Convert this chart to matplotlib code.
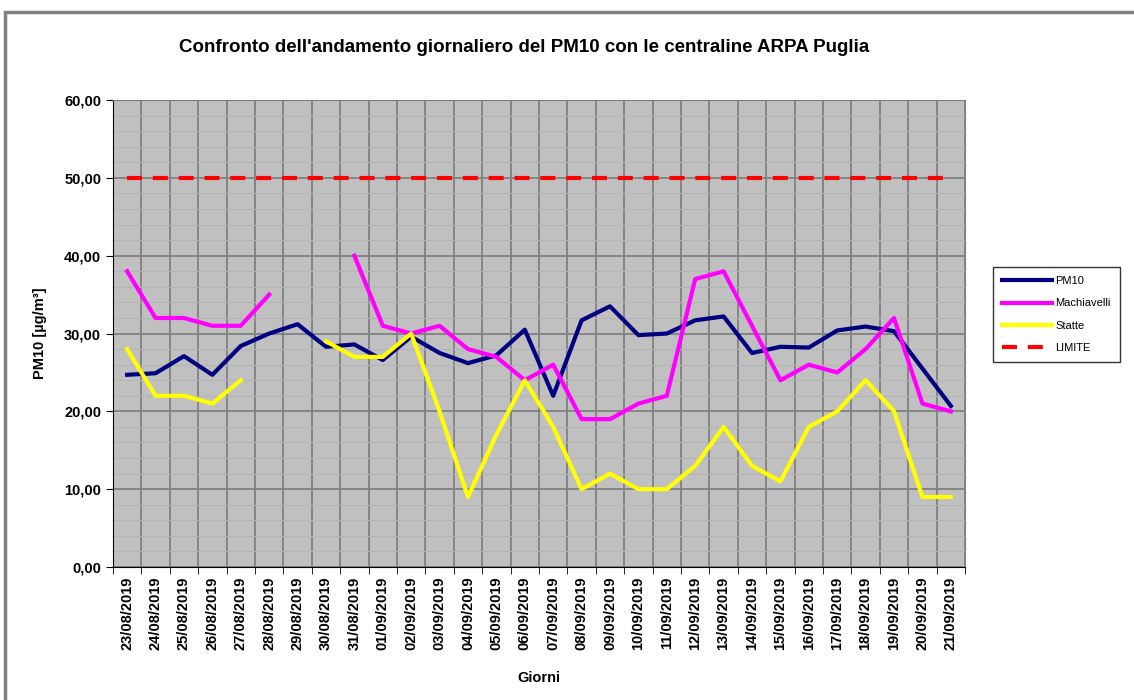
import matplotlib.pyplot as plt
import matplotlib.patches as patches
import numpy as np

plt.rcParams['font.family'] = ['Liberation Sans', 'DejaVu Sans']

# Data
days = ['23/08/2019', '24/08/2019', '25/08/2019', '26/08/2019', '27/08/2019',
        '28/08/2019', '29/08/2019', '30/08/2019', '31/08/2019', '01/09/2019',
        '02/09/2019', '03/09/2019', '04/09/2019', '05/09/2019', '06/09/2019',
        '07/09/2019', '08/09/2019', '09/09/2019', '10/09/2019', '11/09/2019',
        '12/09/2019', '13/09/2019', '14/09/2019', '15/09/2019', '16/09/2019',
        '17/09/2019', '18/09/2019', '19/09/2019', '20/09/2019', '21/09/2019']
pm10 = [24.7, 24.9, 27.1, 24.7, 28.4, 30.0, 31.2, 28.3, 28.6, 26.6,
        29.6, 27.5, 26.2, 27.2, 30.5, 22.0, 31.7, 33.5, 29.8, 30.0,
        31.7, 32.2, 27.5, 28.3, 28.2, 30.4, 30.9, 30.3, 25.5, 20.7]
machiavelli = [38, 32, 32, 31, 31, 35, None, None, 40, 31,
               30, 31, 28, 27, 24, 26, 19, 19, 21, 22,
               37, 38, 31, 24, 26, 25, 28, 32, 21, 20]
statte = [28, 22, 22, 21, 24, None, None, 29, 27, 27,
          30, 20, 9, 17, 24, 18, 10, 12, 10, 10,
          13, 18, 13, 11, 18, 20, 24, 20, 9, 9]
limite = [50] * len(days)

def arr(v):
    return np.array([np.nan if x is None else x for x in v], dtype=float)

fig = plt.figure(figsize=(11.34, 7.0), dpi=100)
fig.patches.append(patches.Rectangle((0.004, -0.01), 1.2, 0.993, transform=fig.transFigure,
                                     fill=False, edgecolor='#808080', linewidth=2.5))

ax = fig.add_axes([0.0996, 0.19, 0.7514, 0.667])
ax.set_facecolor('#C0C0C0')
x = np.arange(len(days))

ax.plot(x, arr(pm10), color='#000080', lw=3, label='PM10')
ax.plot(x, arr(machiavelli), color='#FF00FF', lw=3, label='Machiavelli')
ax.plot(x, arr(statte), color='#FFFF00', lw=3, label='Statte')
ax.plot(x, arr(limite), color='#FF0000', lw=3, ls=(0, (3.6, 2.6)),
        dash_capstyle='butt', label='LIMITE')

ax.set_xlim(-0.5, len(days) - 0.5)
ax.set_ylim(0, 60)
ax.set_yticks(np.arange(0, 61, 10))
ax.set_yticks(np.arange(0, 61, 2), minor=True)
ax.set_yticklabels([f'{v:.2f}'.replace('.', ',') for v in range(0, 61, 10)],
                   fontsize=10.5, fontweight='bold')
ax.set_xticks(x)
ax.set_xticklabels(days, rotation=90, fontsize=10.5, fontweight='bold')
ax.set_xticks(np.arange(-0.5, len(days)), minor=True)
ax.tick_params(axis='x', which='major', length=0, pad=7)
ax.tick_params(axis='x', which='minor', length=5, direction='out', color='black')
ax.tick_params(axis='y', which='major', length=5, direction='out', color='black')
ax.tick_params(axis='y', which='minor', length=0)

ax.grid(True, axis='y', which='major', color='#808080', lw=1.3)
ax.grid(True, axis='y', which='minor', color='#B4B4B4', lw=0.8)
ax.grid(True, axis='x', which='minor', color='#808080', lw=1.3)
ax.set_axisbelow(True)

for s in ['top', 'right']:
    ax.spines[s].set_color('#808080')
for s in ['left', 'bottom']:
    ax.spines[s].set_color('black')

fig.text(0.462, 0.932, "Confronto dell'andamento giornaliero del PM10 con le centraline ARPA Puglia",
         fontsize=13.5, fontweight='bold', ha='center', va='center')
ax.set_xlabel('Giorni', fontsize=10.5, fontweight='bold', labelpad=15)
ax.set_ylabel('PM10 [µg/m³]', fontsize=10.5, fontweight='bold', labelpad=12)

leg = fig.legend(loc='upper left', bbox_to_anchor=(0.871, 0.626), fontsize=8,
                 frameon=True, fancybox=False, shadow=False, handlelength=4.5,
                 labelspacing=1.1, borderpad=0.8, handletextpad=0.3)
leg.get_frame().set_edgecolor('black')
leg.get_frame().set_linewidth(1.0)

fig.savefig('out.png', dpi=100)
